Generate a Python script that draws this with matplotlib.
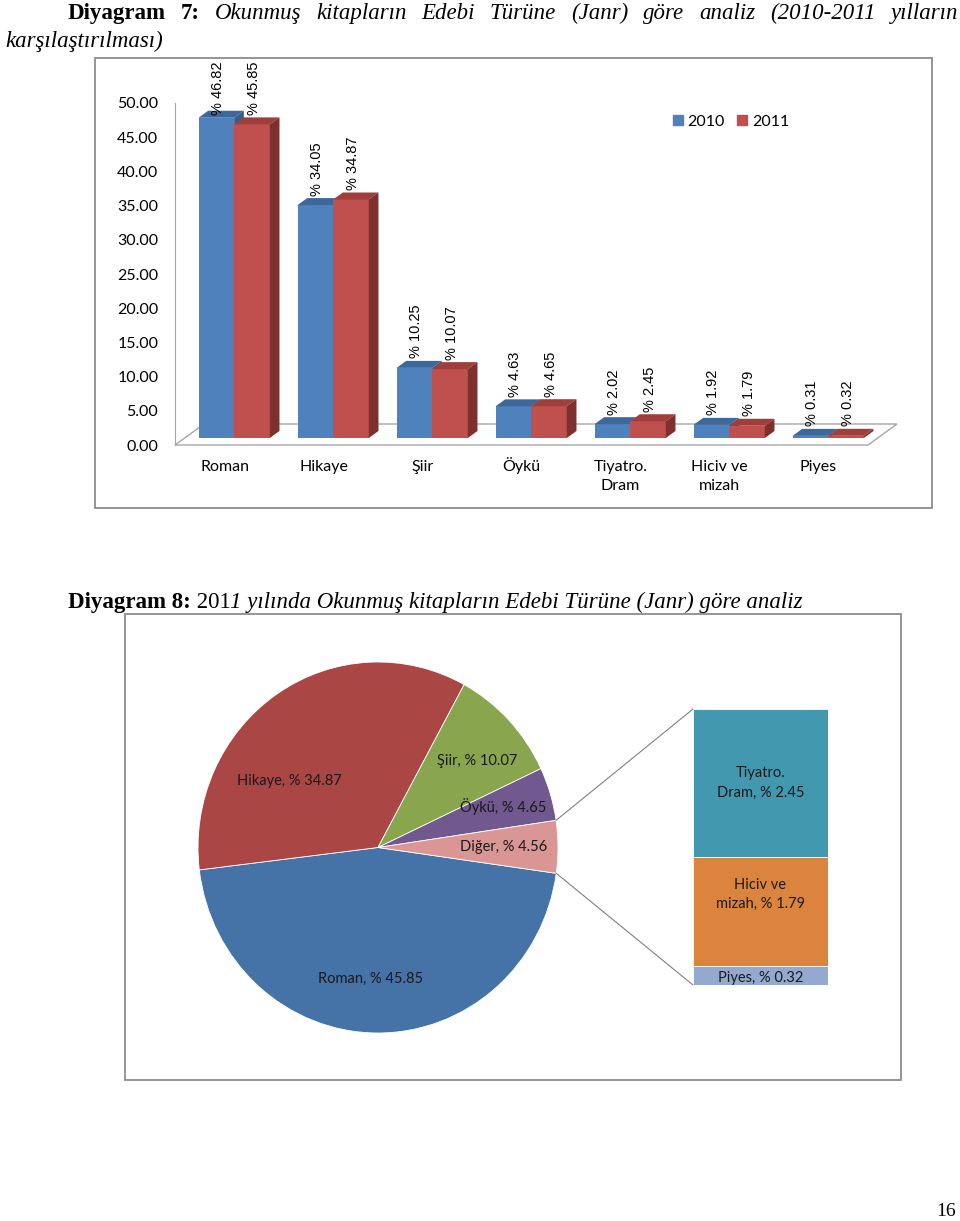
import numpy as np
import matplotlib.pyplot as plt
from matplotlib.patches import Rectangle, Polygon, Patch, ConnectionPatch

W, H = 960, 1221

# bar chart data (Diyagram 7)
categories = ["Roman", "Hikaye", "Şiir", "Öykü", "Tiyatro.\nDram", "Hiciv ve\nmizah", "Piyes"]
values_2010 = [46.82, 34.05, 10.25, 4.63, 2.02, 1.92, 0.31]
values_2011 = [45.85, 34.87, 10.07, 4.65, 2.45, 1.79, 0.32]
years = ["2010", "2011"]

# pie of bar data (Diyagram 8)
pie_labels = ["Roman", "Hikaye", "Şiir", "Öykü", "Diğer"]
pie_values = [45.85, 34.87, 10.07, 4.65, 4.56]
other_labels = ["Tiyatro.\nDram", "Hiciv ve\nmizah", "Piyes"]
other_values = [2.45, 1.79, 0.32]

SANS = "Lato"
SERIF = "Liberation Serif"

face = {"2010": "#4F81BD", "2011": "#C0504D"}
top = {"2010": "#3C689C", "2011": "#A03E3B"}
side = {"2010": "#385D8A", "2011": "#7D302E"}
pie_colors = ["#4572A7", "#AA4643", "#89A54E", "#71588F", "#D99694"]
other_colors = ["#4198AF", "#DB843D", "#93A9CF"]


def fbox(x0, y0, x1, y1):
    return [x0 / W, 1 - y1 / H, (x1 - x0) / W, (y1 - y0) / H]


def frame(x0, y0, x1, y1):
    fig.add_artist(Rectangle((x0 / W, 1 - y1 / H), (x1 - x0) / W, (y1 - y0) / H,
                             transform=fig.transFigure, fill=False,
                             edgecolor="#8C8C8C", lw=1.3))


def justify(parts, x0, x1, y):
    texts = [fig.text(0, 1 - y / H, s, va="baseline", **kw) for s, kw in parts]
    fig.canvas.draw()
    r = fig.canvas.get_renderer()
    widths = [t.get_window_extent(r).width for t in texts]
    gap = (x1 - x0 - sum(widths)) / (len(texts) - 1)
    x = x0
    for t, wd in zip(texts, widths):
        t.set_x(x / W)
        x += wd + gap


fig = plt.figure(figsize=(W / 100, H / 100), dpi=100)

# ---- titles
bold = dict(family=SERIF, fontsize=16.5, weight="bold")
ital = dict(family=SERIF, fontsize=16.5, style="italic")
line1 = [("Diyagram", bold), ("7:", bold)] + [(w, ital) for w in
         "Okunmuş kitapların Edebi Türüne (Janr) göre analiz (2010-2011 yılların".split()]
justify(line1, 68, 958, 19)
fig.text(5 / W, 1 - 47 / H, "karşılaştırılması)", va="baseline", **ital)

t8 = fig.text(68 / W, 1 - 608 / H, "Diyagram 8:", va="baseline", **bold)
fig.canvas.draw()
x = 68 + t8.get_window_extent().width
t8b = fig.text(x / W, 1 - 608 / H, " 201", va="baseline", family=SERIF, fontsize=16.5)
fig.canvas.draw()
x += t8b.get_window_extent().width
fig.text(x / W, 1 - 608 / H, "1 yılında Okunmuş kitapların Edebi Türüne (Janr) göre analiz",
         va="baseline", **ital)
fig.text(946 / W, 1 - 1212 / H, "16", ha="center", va="center", family=SERIF, fontsize=14)

# ---- frames
frame(95, 58, 932, 508)
frame(125, 614, 901, 1080)

# ---- 3D-looking clustered bars
ax = fig.add_axes(fbox(175, 103, 868, 445))
ax.set_xlim(-0.5, 6.5)
ax.set_ylim(0, 50)
DX = 29 / (693 / 7)      # floor depth in category units
DY = 21 / (342 / 50)     # floor depth in value units
d0, d1 = 1 / 3, 2 / 3
bw = 0.36

floor = Polygon([(-0.5, 0), (6.5, 0), (6.5 + DX, DY), (-0.5 + DX, DY)], closed=True,
                facecolor="white", edgecolor="#A6A6A6", lw=1.0, zorder=1, clip_on=False)
ax.add_patch(floor)

z = 2
for i in range(len(categories)):
    for s, (yr, vals) in enumerate(zip(years, [values_2010, values_2011])):
        v = vals[i]
        x0 = i - bw + s * bw
        fx, fy = x0 + d0 * DX, d0 * DY
        bx, by = x0 + d1 * DX, d1 * DY
        ax.add_patch(Rectangle((fx, fy), bw, v, facecolor=face[yr], edgecolor="none",
                               zorder=z, clip_on=False))
        ax.add_patch(Polygon([(fx, fy + v), (fx + bw, fy + v), (bx + bw, by + v), (bx, by + v)],
                             facecolor=top[yr], edgecolor="none", zorder=z, clip_on=False))
        ax.add_patch(Polygon([(fx + bw, fy), (fx + bw, fy + v), (bx + bw, by + v), (bx + bw, by)],
                             facecolor=side[yr], edgecolor="none", zorder=z, clip_on=False))
        z += 1
        ax.text(fx + bw / 2 + 0.02, min(v + 2.4, 48.3), f"% {v:.2f}", rotation=90,
                ha="center", va="bottom", family="Liberation Sans", fontsize=10.5,
                zorder=50, clip_on=False)

for sp in ["top", "right", "bottom"]:
    ax.spines[sp].set_visible(False)
ax.spines["left"].set_color("#A6A6A6")
ax.set_yticks(np.arange(0, 51, 5))
ax.set_yticklabels([f"{t:.2f}" for t in np.arange(0, 51, 5)], family=SANS, fontsize=11.5)
ax.tick_params(axis="y", length=0, pad=12)
ax.set_xticks([])
for i, cat in enumerate(categories):
    for k, line in enumerate(cat.split("\n")):
        ax.annotate(line, xy=(i, 0), xytext=(0, -(26 + 19 * k)), textcoords="offset pixels",
                    ha="center", va="baseline", family=SANS, fontsize=11.5,
                    annotation_clip=False)
ax.patch.set_visible(False)

fig.legend(handles=[Patch(color=face[y], label=y) for y in years], loc="center",
           bbox_to_anchor=(731 / W, 1 - 122 / H), ncol=2, frameon=False,
           handlelength=0.6, handleheight=0.6, handletextpad=0.3, columnspacing=0.8,
           prop=dict(family=SANS, size=11.5))

# ---- pie of bar
pax = fig.add_axes(fbox(198, 662, 558, 1033))
wedges, _ = pax.pie(pie_values, colors=pie_colors, startangle=-8, counterclock=False,
                    wedgeprops=dict(edgecolor="white", linewidth=0.6))
pax.set_aspect("auto")
pax.set_xlim(-1, 1)
pax.set_ylim(-1, 1)

shift = [-3, 20, -3, 1, 0]
rad = [0.71, 0.61, 0.72, 0.73, 0.70]
for w, lab, v, sh, r in zip(wedges, pie_labels, pie_values, shift, rad):
    a = np.deg2rad((w.theta1 + w.theta2) / 2 + sh)
    pax.text(r * np.cos(a), r * np.sin(a), f"{lab}, % {v:.2f}", ha="center", va="center",
             family=SANS, fontsize=10.5, color="#1A1A1A")

bax = fig.add_axes(fbox(693, 709, 828, 985))
total = sum(other_values)
lift = {"Hiciv ve\nmizah": 0.28, "Piyes": -0.05}
bottom = 0
for lab, v, c in zip(other_labels[::-1], other_values[::-1], other_colors[::-1]):
    bax.bar(0.5, v, width=1, bottom=bottom, color=c, edgecolor="white", linewidth=0.6)
    bax.text(0.5, bottom + v / 2 + lift.get(lab, 0),
             f"{lab}, % {v:.2f}", ha="center", va="center",
             family=SANS, fontsize=10.5, color="#1A1A1A", linespacing=1.5)
    bottom += v
bax.set_xlim(0, 1)
bax.set_ylim(0, total)
bax.axis("off")

other = wedges[-1]
for ang, yb in [(other.theta2, total), (other.theta1, 0)]:
    a = np.deg2rad(ang)
    fig.add_artist(ConnectionPatch(xyA=(np.cos(a), np.sin(a)), coordsA=pax.transData,
                                   xyB=(0, yb), coordsB=bax.transData,
                                   color="#808080", lw=0.8))

fig.savefig("out.png", dpi=100)
